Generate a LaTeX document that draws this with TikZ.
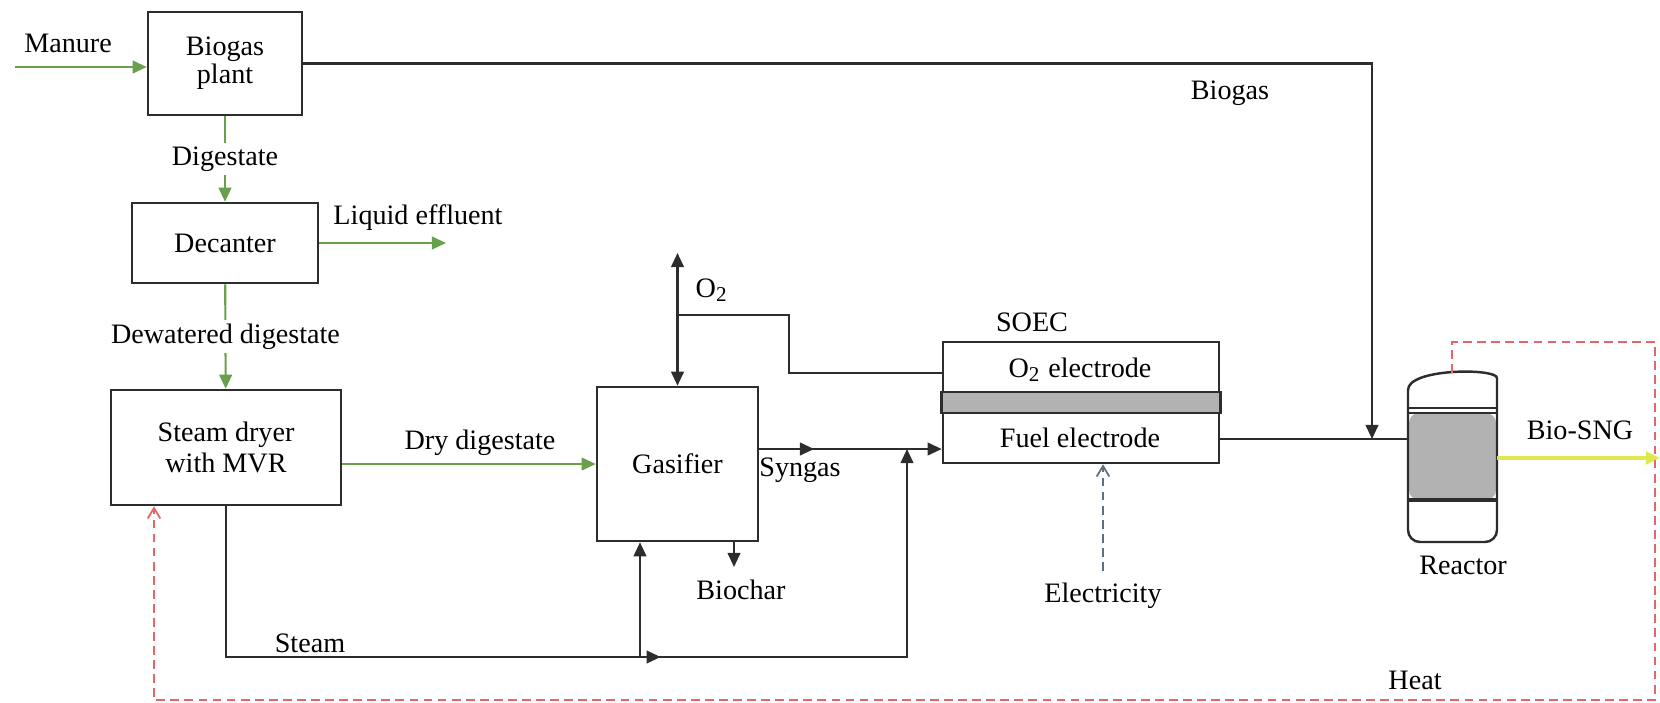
\documentclass[tikz,border=0pt]{standalone}
\usepackage{fontspec}
\setmainfont{Liberation Serif}
\usetikzlibrary{arrows.meta}
\usetikzlibrary{decorations.markings}

\definecolor{flowgreen}{RGB}{104,160,76}
\definecolor{heatred}{RGB}{226,104,104}
\definecolor{elecgray}{RGB}{96,110,128}
\definecolor{sngyellow}{RGB}{222,232,80}
\definecolor{linegray}{RGB}{45,45,45}

\begin{document}
\begin{tikzpicture}[x=0.01cm, y=-0.01cm,
    every node/.style={font=\fontsize{8}{9}\selectfont},
    unit/.style={draw=linegray, line width=0.7pt, align=center, inner sep=0pt},
    wire/.style={line width=0.6pt, linegray},
    tip/.style={-{Triangle[length=4pt,width=3.6pt]}},
    gflow/.style={line width=0.6pt, flowgreen, -{Triangle[length=4pt,width=3.6pt]}},
    onlbl/.style={fill=white, text=black, inner sep=1pt},
    heat/.style={line width=0.5pt, heatred, dash pattern=on 2.5pt off 1.5pt, -{Straight Barb[length=3pt,width=3.6pt]}},
    midtip/.style={postaction={decorate}, decoration={markings,
        mark=at position #1 with {\arrow{Triangle[length=4pt,width=3.6pt]}}}}]
    \useasboundingbox (0,0) rectangle (1660,702);
    % process units
    \node [unit, minimum width=1.54cm, minimum height=1.03cm] (plant) at (225,63.5) {Biogas\\[-1pt]plant};
    \node [unit, minimum width=1.86cm, minimum height=0.80cm] (decanter) at (225,243) {Decanter};
    \node [unit, minimum width=2.30cm, minimum height=1.15cm] (dryer) at (226,447.5) {Steam dryer\\with MVR};
    \node [unit, minimum width=1.61cm, minimum height=1.54cm] (gasifier) at (677.5,464) {Gasifier};
    \node [unit, minimum width=2.76cm, minimum height=1.21cm] (soec) at (1081,402.5) {};
    \draw [unit, fill=gray!60] (soec.west |- 0,392) rectangle (soec.east |- 0,413);
    \node  (soeclbl) at (1032,322) {SOEC};
    \node  (o2el) at (1080,370) {O\textsubscript{2} electrode};
    \node  (fuelel) at (1080,438) {Fuel electrode};
    % reactor
    \fill [gray!60, rounded corners=0.1cm] (1409,413) -- (1409,500) -- (1496,500) -- (1496,413) -- cycle;
    \draw [line width=0.7pt, linegray] (1497,390) .. controls (1497,368) and (1408,368) .. (1408,390)
        [rounded corners=0.12cm] -- (1408,542) -- (1497,542) -- cycle;
    \draw [line width=0.7pt, linegray] (1408,408) to (1497,408);
    \draw [line width=0.5pt, linegray] (1408,413) to (1497,413);
    \draw [line width=0.9pt, linegray] (1408,500) to (1497,500);
    \coordinate (rin) at (1408,439);
    \coordinate (rout) at (1497,458);
    \coordinate (rtop) at (1452,373);
    \node  (reactor) at (1463,565) {Reactor};
    % digestate line
    \coordinate (manure) at (15,67);
    \node  (manurelbl) at (68,43) {Manure};
    \draw [gflow] (manure) to (manure -| plant.west);
    \draw [gflow] (plant) to node [onlbl] (dig) {Digestate} (decanter);
    \coordinate (effl) at (446,243);
    \draw [gflow] (decanter) to (effl);
    \node  (effllbl) at (418,218) {Liquid effluent};
    \draw [gflow] (decanter) to node [onlbl] (dew) {Dewatered digestate} (dryer);
    \coordinate (dry) at (0,464);
    \draw [gflow] (dryer.east |- dry) to (gasifier.west |- dry);
    \node  (drylbl) at (480,443) {Dry digestate};
    % gas lines
    \coordinate (bgin) at (1372,439);
    \draw [wire, tip] (plant.east) -| (bgin);
    \node  (biogas) at (1230,93) {Biogas};
    \coordinate (syn) at (0,449);
    \draw [wire, tip, midtip=0.3] (gasifier.east |- syn) to (soec.west |- syn);
    \node  (syngas) at (800,470) {Syngas};
    \draw [wire] (soec.east |- rin) to (rin);
    \coordinate (o2top) at (677.5,253);
    \draw [wire, {Triangle[length=4pt,width=3.6pt]}-{Triangle[length=4pt,width=3.6pt]}] (o2top) to (gasifier.north);
    \node  (o2) at (712,290) {O\textsubscript{2}};
    \coordinate (o2j) at (677.5,315);
    \coordinate (o2k) at (789,373);
    \draw [wire] (o2j) -| (o2k) to (o2k -| soec.west);
    % steam
    \coordinate (stl) at (0,657);
    \coordinate (stj) at (907,449);
    \draw [wire, tip, midtip=0.563] (dryer.south) |- (stl -| stj) to (stj);
    \node  (steam) at (310,643) {Steam};
    \coordinate (gr) at (640,657);
    \draw [wire, tip] (gr) to (gr |- gasifier.south);
    \coordinate (bc) at (734,567);
    \draw [wire, tip] (bc |- gasifier.south) to (bc);
    \node  (biochar) at (741,590) {Biochar};
    % electricity, product, heat
    \node  (elec) at (1103,596) {Electricity};
    \draw [line width=0.5pt, elecgray, dash pattern=on 2.5pt off 1.5pt, -{Straight Barb[length=3pt,width=3.6pt]}] (elec.north) to (elec.north |- soec.south);
    \coordinate (sng) at (1660,458);
    \draw [line width=0.9pt, sngyellow, -{Triangle[length=4pt,width=3.6pt]}] (rout) to (sng);
    \node  (biosng) at (1580,430) {Bio-SNG};
    \coordinate (h3) at (154,700);
    \draw [heat] (rtop) |- (1655,342) |- (h3) to (h3 |- dryer.south);
    \node  (heatlbl) at (1415,680) {Heat};
\end{tikzpicture}
\end{document}
